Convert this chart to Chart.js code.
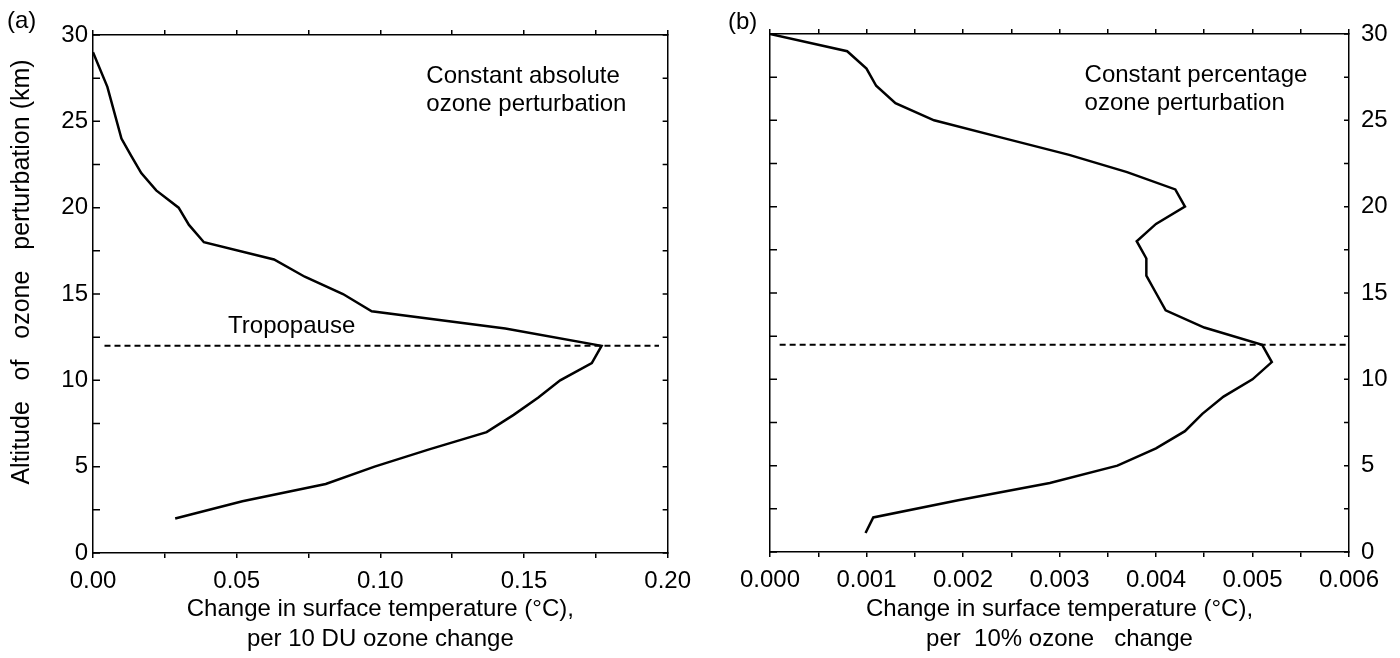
<!DOCTYPE html>
<html>
<head>
<meta charset="utf-8">
<script src="https://cdn.jsdelivr.net/npm/chart.js@4.4.1/dist/chart.umd.min.js"></script>
<style>
  body { margin: 0; background: #fff; }
  #wrap { position: relative; width: 1400px; height: 658px; }
  canvas { position: absolute; top: 0; }
  #chartA { left: 0; }
  #chartB { left: 700px; }
</style>
</head>
<body>
<div id="wrap">
  <canvas id="chartA" width="700" height="658"></canvas>
  <canvas id="chartB" width="700" height="658"></canvas>
</div>
<script>
// --- data ---
// (a) constant absolute ozone perturbation, dT per 10 DU
const altA = [29, 27, 24, 23, 22, 21, 20, 19, 18, 17, 16, 15, 14, 13, 12, 11, 10, 9, 8, 7, 6, 5, 4, 3, 2];
const dTempA = [0.000, 0.005, 0.0099, 0.0133, 0.0168, 0.022, 0.0298, 0.0334, 0.0386, 0.063, 0.0737, 0.087,
                0.097, 0.1435, 0.177, 0.1736, 0.1626, 0.155, 0.1464, 0.137, 0.117, 0.098, 0.081, 0.052, 0.0286];

// (b) constant percentage ozone perturbation, dT per 10%
const altB = [30, 29, 28, 27, 26, 25, 24, 23, 22, 21, 20, 19, 18, 17, 16, 15, 14, 13, 12, 11, 10, 9, 8, 7, 6, 5, 4, 3, 2, 1.1];
const dTempB = [0.0000, 0.0008, 0.0010, 0.0011, 0.0013, 0.0017, 0.0024, 0.0031, 0.0037, 0.0042, 0.0043, 0.0040,
                0.0038, 0.0039, 0.0039, 0.0040, 0.0041, 0.0045, 0.0051, 0.0052, 0.0050, 0.0047, 0.00448, 0.0043,
                0.0040, 0.0036, 0.0029, 0.00195, 0.00107, 0.00099];

// tropopause height and the x extent of the dashed line
const tropopause = 12;
const tropoA = [0.004, 0.197];
const tropoB = [0.0001, 0.00598];

// ticks
const altTicks = [0, 2.5, 5, 7.5, 10, 12.5, 15, 17.5, 20, 22.5, 25, 27.5, 30];
const altLabels = [0, 5, 10, 15, 20, 25, 30];
const xTicksA = [0, 0.025, 0.05, 0.075, 0.1, 0.125, 0.15, 0.175, 0.2];
const xLabelsA = [0, 0.05, 0.1, 0.15, 0.2];
const xTicksB = [0, 0.0005, 0.001, 0.0015, 0.002, 0.0025, 0.003, 0.0035, 0.004, 0.0045, 0.005, 0.0055, 0.006];
const xLabelsB = [0, 0.001, 0.002, 0.003, 0.004, 0.005, 0.006];

const FONT = "'Liberation Sans', Arial, Helvetica, sans-serif";
Chart.defaults.color = '#000';
Chart.defaults.font.family = FONT;

const isIn = (list, v) => list.some(l => Math.abs(l - v) < 1e-9);

// y ticks point into the plot, so draw them here from the y scale
const innerTicks = {
    id: 'innerTicks',
    afterDatasetsDraw(chart) {
        const { ctx, chartArea } = chart;
        const y = chart.scales.y;
        ctx.save();
        ctx.strokeStyle = '#000';
        ctx.lineWidth = 1.5;
        altTicks.forEach(v => {
            const py = y.getPixelForValue(v);
            ctx.beginPath();
            ctx.moveTo(chartArea.left, py);
            ctx.lineTo(chartArea.left + 7, py);
            ctx.moveTo(chartArea.right, py);
            ctx.lineTo(chartArea.right - 5, py);
            ctx.stroke();
        });
        ctx.restore();
    }
};

// free text: notes inside the plot (data coords) and panel letter / y title (pixels)
const notesPlugin = {
    id: 'notes',
    afterDraw(chart, args, opts) {
        const { ctx } = chart;
        const xs = chart.scales.x, ys = chart.scales.y;
        ctx.save();
        ctx.fillStyle = '#000';
        ctx.textBaseline = 'middle';
        ctx.textAlign = 'left';
        ctx.font = `24px ${FONT}`;
        (opts.notes || []).forEach(n => {
            ctx.fillText(n.text, xs.getPixelForValue(n.x), ys.getPixelForValue(n.y));
        });
        ctx.fillText(opts.letter, opts.letterPos[0], opts.letterPos[1]);
        if (opts.yTitle) {
            ctx.font = `25px ${FONT}`;
            ctx.translate(opts.yTitlePos[0], opts.yTitlePos[1]);
            ctx.rotate(-Math.PI / 2);
            ctx.textAlign = 'center';
            ctx.fillText(opts.yTitle, 0, 0);
        }
        ctx.restore();
    }
};

function makePanel(id, cfg) {
    const tickFont = { size: 24, family: FONT };
    const border = { display: true, color: '#000', width: 1.5 };
    const xGrid = { drawOnChartArea: false, drawTicks: true, tickLength: 5, color: '#000', lineWidth: 1.5 };
    const yGrid = { drawOnChartArea: false, drawTicks: false };

    return new Chart(document.getElementById(id), {
        type: 'scatter',
        data: {
            datasets: [
                {
                    data: cfg.alt.map((a, i) => ({ x: cfg.dT[i], y: a })),
                    showLine: true,
                    borderColor: '#000',
                    borderWidth: 2.5,
                    pointRadius: 0,
                    tension: 0
                },
                {
                    data: cfg.tropo.map(x => ({ x, y: tropopause })),
                    showLine: true,
                    borderColor: '#000',
                    borderWidth: 2,
                    borderDash: [6, 4],
                    pointRadius: 0
                }
            ]
        },
        options: {
            responsive: false,
            animation: false,
            devicePixelRatio: 1,
            layout: { padding: 0 },
            plugins: {
                legend: { display: false },
                tooltip: { enabled: false },
                notes: {
                    notes: cfg.notes,
                    letter: cfg.letter,
                    letterPos: cfg.letterPos,
                    yTitle: cfg.yTitle,
                    yTitlePos: cfg.yTitlePos
                }
            },
            scales: {
                x: {
                    type: 'linear', position: 'bottom', min: 0, max: cfg.xMax,
                    afterBuildTicks: s => { s.ticks = cfg.xTicks.map(v => ({ value: v })); },
                    afterFit: s => { s.height = cfg.box.bottom; },
                    ticks: {
                        autoSkip: false, maxRotation: 0, padding: 9, font: tickFont,
                        callback: v => isIn(cfg.xLabels, v) ? v.toFixed(cfg.dec) : ''
                    },
                    grid: xGrid, border,
                    title: {
                        display: true, text: cfg.xTitle,
                        font: { size: 24, family: FONT, lineHeight: 1.25 },
                        padding: { top: 0, bottom: 4 }
                    }
                },
                x2: {
                    type: 'linear', position: 'top', min: 0, max: cfg.xMax,
                    afterBuildTicks: s => { s.ticks = cfg.xTicks.map(v => ({ value: v })); },
                    afterFit: s => { s.height = cfg.box.top; },
                    ticks: { display: false, autoSkip: false },
                    grid: xGrid, border
                },
                y: {
                    type: 'linear', position: 'left', min: 0, max: 30,
                    afterBuildTicks: s => { s.ticks = altTicks.map(v => ({ value: v })); },
                    afterFit: s => { s.width = cfg.box.left; },
                    ticks: {
                        display: cfg.side === 'left', autoSkip: false, padding: 5, font: tickFont,
                        callback: v => isIn(altLabels, v) ? String(v) : ''
                    },
                    grid: yGrid, border
                },
                y2: {
                    type: 'linear', position: 'right', min: 0, max: 30,
                    afterBuildTicks: s => { s.ticks = altTicks.map(v => ({ value: v })); },
                    afterFit: s => { s.width = cfg.box.right; },
                    ticks: {
                        display: cfg.side === 'right', autoSkip: false, padding: 12, font: tickFont,
                        callback: v => isIn(altLabels, v) ? String(v) : ''
                    },
                    grid: yGrid, border
                }
            }
        },
        plugins: [innerTicks, notesPlugin]
    });
}

makePanel('chartA', {
    alt: altA, dT: dTempA, tropo: tropoA,
    xMax: 0.2, xTicks: xTicksA, xLabels: xLabelsA, dec: 2,
    xTitle: ['Change in surface temperature (\u00b0C),', 'per 10 DU ozone change'],
    side: 'left',
    box: { left: 93, right: 27, top: 35, bottom: 105 },
    letter: '(a)', letterPos: [7, 21],
    yTitle: 'Altitude   of   ozone   perturbation (km)', yTitlePos: [22, 272],
    notes: [
        { text: 'Constant absolute', x: 0.116, y: 27.6 },
        { text: 'ozone perturbation', x: 0.116, y: 26.0 },
        { text: 'Tropopause', x: 0.047, y: 13.1 }
    ]
});

makePanel('chartB', {
    alt: altB, dT: dTempB, tropo: tropoB,
    xMax: 0.006, xTicks: xTicksB, xLabels: xLabelsB, dec: 3,
    xTitle: ['Change in surface temperature (\u00b0C),', 'per  10% ozone   change'],
    side: 'right',
    box: { left: 70, right: 51, top: 34, bottom: 106 },
    letter: '(b)', letterPos: [28, 22],
    notes: [
        { text: 'Constant percentage', x: 0.00326, y: 27.6 },
        { text: 'ozone perturbation', x: 0.00326, y: 26.0 }
    ]
});
</script>
</body>
</html>
